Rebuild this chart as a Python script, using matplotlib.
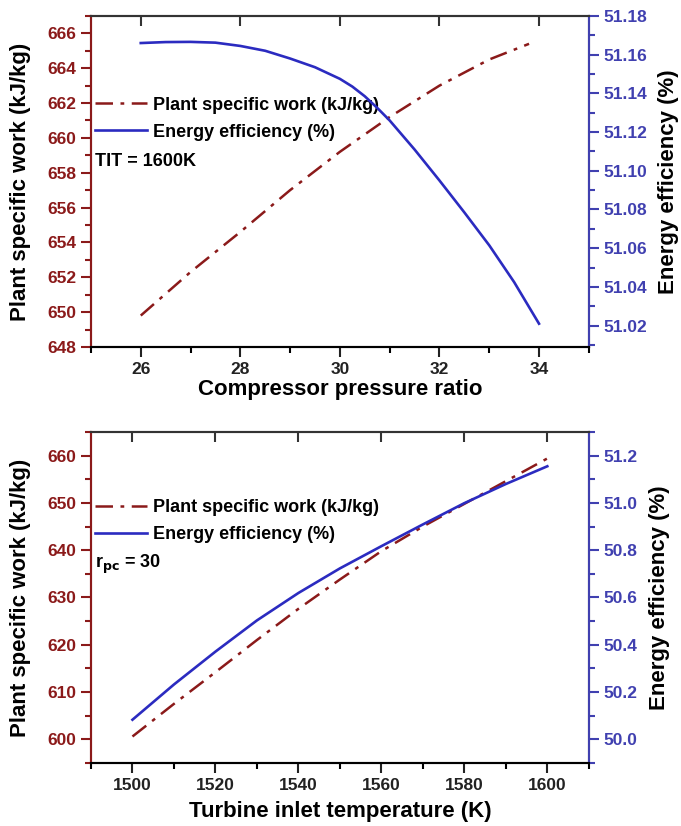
import numpy as np
import matplotlib.pyplot as plt
from matplotlib.ticker import MultipleLocator

plt.rcParams['font.family'] = ['Liberation Sans', 'DejaVu Sans']
plt.rcParams['font.weight'] = 'bold'

# Top panel: compressor pressure ratio sweep (TIT = 1600 K)
rpc = np.array([26, 27, 28, 29, 30, 31, 32, 33, 33.8])
work_rpc = np.array([649.8, 652.3, 654.6, 657.0, 659.2, 661.2, 663.0, 664.5, 665.4])
rpc_eff = np.array([26, 26.5, 27, 27.5, 28, 28.5, 29, 29.5, 30, 30.25, 30.5, 30.75, 31, 31.5,
                    32, 32.5, 33, 33.5, 34])
eff_rpc = np.array([51.166, 51.1665, 51.1666, 51.1662, 51.1645, 51.162, 51.158, 51.1535, 51.1475,
                    51.1435, 51.1385, 51.1325, 51.126, 51.111, 51.095, 51.0785, 51.0615, 51.0425,
                    51.021])

# Bottom panel: turbine inlet temperature sweep (rpc = 30)
tit = np.array([1500, 1510, 1520, 1530, 1540, 1550, 1560, 1570, 1580, 1590, 1600])
work_tit = np.array([600.6, 607.5, 614.2, 621.0, 627.6, 633.8, 639.8, 645.0, 649.8, 654.6, 659.4])
eff_tit = np.array([50.083, 50.232, 50.371, 50.503, 50.619, 50.723, 50.817, 50.909, 50.999, 51.080, 51.155])

red = '#8b1a1a'
blue = '#2b2bc0'
blue_txt = '#4040b0'

fig = plt.figure(figsize=(6.81, 8.26), dpi=100)


def panel(rect, x, w, xe, e, xlim, ylim, y2lim, xmaj, xmin, ymaj, ymin, y2maj, y2min,
          xlabel, note, y2fmt, leg_y, note_y, xpad):
    ax = fig.add_axes(rect)
    ax2 = ax.twinx()
    l1, = ax.plot(x, w, color=red, lw=1.8, dashes=(7, 3, 1.5, 3), label='Plant specific work (kJ/kg)')
    l2, = ax2.plot(xe, e, color=blue, lw=1.9, label='Energy efficiency (%)')
    ax.set_xlim(*xlim)
    ax.set_ylim(*ylim)
    ax2.set_ylim(*y2lim)
    ax.xaxis.set_major_locator(MultipleLocator(xmaj))
    ax.xaxis.set_minor_locator(MultipleLocator(xmin))
    ax.yaxis.set_major_locator(MultipleLocator(ymaj))
    ax.yaxis.set_minor_locator(MultipleLocator(ymin))
    ax2.yaxis.set_major_locator(MultipleLocator(y2maj))
    ax2.yaxis.set_minor_locator(MultipleLocator(y2min))
    ax2.yaxis.set_major_formatter(plt.FormatStrFormatter(y2fmt))
    for a in (ax, ax2):
        for s in a.spines.values():
            s.set_linewidth(1.5)
    ax.spines['left'].set_color(red)
    ax2.spines['left'].set_color(red)
    ax2.spines['right'].set_color(blue_txt)
    ax.spines['top'].set_color('#333333')
    ax2.spines['top'].set_color('#333333')
    ax.tick_params(axis='x', which='major', direction='out', length=7, width=1.5, labelsize=12.5,
                   colors='#222222')
    ax.tick_params(axis='x', which='minor', direction='out', length=4, width=1.5)
    ax.tick_params(axis='y', which='major', length=7, width=1.5, labelsize=12.5, colors=red)
    ax.tick_params(axis='y', which='minor', length=4, width=1.5, colors=red)
    ax2.tick_params(axis='y', which='major', length=7, width=1.5, labelsize=12.5, colors=blue_txt)
    ax2.tick_params(axis='y', which='minor', length=4, width=1.5, colors=blue_txt)
    ax.set_xlabel(xlabel, fontsize=16, fontweight='bold', labelpad=xpad)
    ax.set_ylabel('Plant specific work (kJ/kg)', fontsize=16, fontweight='bold', labelpad=12)
    ax2.set_ylabel('Energy efficiency (%)', fontsize=16, fontweight='bold', labelpad=8)
    ax.legend(handles=[l1, l2], loc='center left', bbox_to_anchor=(-0.025, leg_y), frameon=False,
              handlelength=2.9, handletextpad=0.35, labelspacing=0.55,
              prop={'weight': 'bold', 'size': 13})
    ax.text(0.008, note_y, note, transform=ax.transAxes, fontsize=13, fontweight='bold', va='center')
    # top spine: inward major ticks only
    sec = ax.secondary_xaxis('top')
    sec.xaxis.set_major_locator(MultipleLocator(xmaj))
    sec.xaxis.set_minor_locator(plt.NullLocator())
    sec.tick_params(direction='in', length=7, width=1.5, labeltop=False, colors='#333333')
    sec.spines['top'].set_visible(False)
    return ax


panel([0.1336, 0.580, 0.731, 0.4007], rpc, work_rpc, rpc_eff, eff_rpc,
      (25, 35), (648, 667), (51.009, 51.18), 2, 1, 2, 1, 0.02, 0.01,
      'Compressor pressure ratio', 'TIT = 1600K', '%.2f', 0.69, 0.56, 2)
panel([0.1336, 0.0763, 0.731, 0.4007], tit, work_tit, tit, eff_tit,
      (1490, 1610), (595, 665), (49.9, 51.3), 20, 10, 10, 5, 0.2, 0.1,
      'Turbine inlet temperature (K)', r'r$_{\mathbf{pc}}$ = 30', '%.1f', 0.73, 0.60, 6)

fig.savefig('out.png', dpi=100)
